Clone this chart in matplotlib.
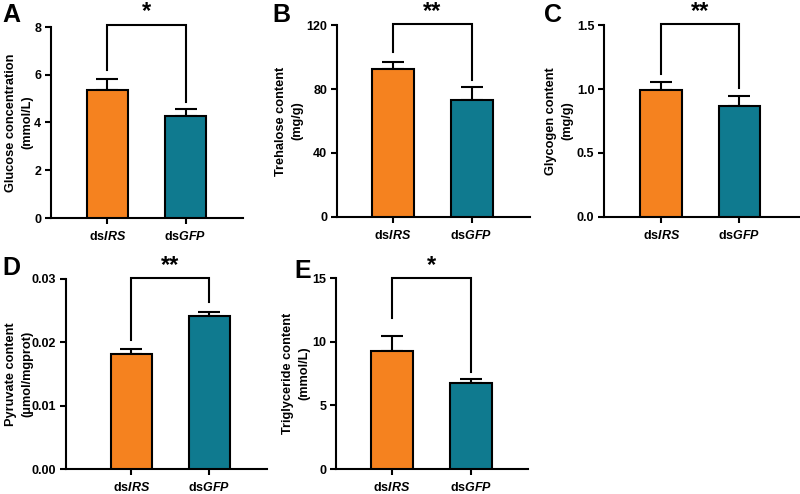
import matplotlib
matplotlib.use("Agg")
import matplotlib.pyplot as plt

plt.rcParams['font.family'] = ['Liberation Sans', 'DejaVu Sans']
plt.rcParams['font.weight'] = 'bold'
plt.rcParams['mathtext.fontset'] = 'custom'
plt.rcParams['mathtext.it'] = 'Liberation Sans:italic:bold'
plt.rcParams['mathtext.rm'] = 'Liberation Sans:bold'

# ---- data ----
groups = [r'ds$\mathit{IRS}$', r'ds$\mathit{GFP}$']
colors = ['#F5821F', '#0F7A8F']

panels = ['A', 'B', 'C', 'D', 'E']
ylabels = ['Glucose concentration\n(mmol/L)',
           'Trehalose content\n(mg/g)',
           'Glycogen content\n(mg/g)',
           'Pyruvate content\n(μmol/mgprot)',
           'Triglyceride content\n(mmol/L)']
means_A = [5.38, 4.29]
errs_A = [0.43, 0.29]
means_B = [92.8, 73.4]
errs_B = [4.2, 8.1]
means_C = [0.995, 0.868]
errs_C = [0.063, 0.080]
means_D = [0.0182, 0.0241]
errs_D = [0.0007, 0.0006]
means_E = [9.31, 6.74]
errs_E = [1.18, 0.36]
means = [means_A, means_B, means_C, means_D, means_E]
errs = [errs_A, errs_B, errs_C, errs_D, errs_E]
yticks = [[0, 2, 4, 6, 8], [0, 40, 80, 120], [0.0, 0.5, 1.0, 1.5],
          [0.00, 0.01, 0.02, 0.03], [0, 5, 10, 15]]
yticklabels = [['0', '2', '4', '6', '8'], ['0', '40', '80', '120'],
               ['0.0', '0.5', '1.0', '1.5'], ['0.00', '0.01', '0.02', '0.03'],
               ['0', '5', '10', '15']]
sig = ['*', '**', '**', '**', '*']
bracket_y = [8.1, 120.8, 1.507, 0.0301, 15.0]
leg_ends = [[6.2, 4.87], [103, 86], [1.118, 1.006], [0.0204, 0.0263], [11.9, 7.63]]

# ---- layout (pixels) ----
W, H = 800, 494
rects_px = [(51, 243, 27, 218), (337, 530, 25.3, 216.7), (604, 799, 25.3, 216.7),
            (66, 267, 278.7, 469), (336, 528, 278.3, 469)]
xlims = [(-0.724, 1.737), (-0.706, 1.74), (-0.73, 1.76), (-0.84, 1.74), (-0.71, 1.72)]
label_off = [-31.5, -48, -44.5, -46.5, -39.5]
letter_pos = [(2, 3), (272, 3), (544, 3), (2, 256), (294, 259)]

fig = plt.figure(figsize=(W / 100, H / 100), dpi=100)
lw = 1.5
for i in range(5):
    x0, x1, yt, yb = rects_px[i]
    ax = fig.add_axes([x0 / W, 1 - yb / H, (x1 - x0) / W, (yb - yt) / H])
    xs = [0, 1]
    ax.bar(xs, means[i], width=0.53, color=colors, edgecolor='black', linewidth=lw, zorder=3)
    for j in range(2):
        ax.errorbar(xs[j], means[i][j], yerr=[[0], [errs[i][j]]], fmt='none',
                    ecolor='black', elinewidth=lw, capsize=7.8, capthick=lw, zorder=2)
    by = bracket_y[i]
    ax.plot([0, 0, 1, 1], [leg_ends[i][0], by, by, leg_ends[i][1]], color='black',
            lw=lw, clip_on=False, zorder=4, solid_joinstyle='miter')
    ax.annotate(sig[i], xy=(0.5, by), xytext=(0, 1), textcoords='offset points',
                ha='center', va='bottom', fontsize=17, fontweight='bold', annotation_clip=False)
    ax.set_xlim(*xlims[i])
    ax.set_ylim(yticks[i][0], yticks[i][-1])
    ax.set_yticks(yticks[i])
    ax.set_yticklabels(yticklabels[i], fontsize=9, fontweight='bold')
    ax.set_xticks(xs)
    ax.set_xticklabels(groups, fontsize=9, fontweight='bold')
    ax.spines['top'].set_visible(False)
    ax.spines['right'].set_visible(False)
    for s in ['left', 'bottom']:
        ax.spines[s].set_linewidth(lw)
    ax.tick_params(axis='both', width=lw, length=4.5, direction='out')
    ax.tick_params(axis='y', pad=2.5)
    ax.tick_params(axis='x', pad=4)
    ax.set_ylabel(ylabels[i], fontsize=9.2, fontweight='bold', linespacing=1.5,
                  va='center', ha='center')
    ax.yaxis.set_label_coords(label_off[i] / (x1 - x0), 0.5)
    lx, ly = letter_pos[i]
    fig.text(lx / W, 1 - ly / H, panels[i], fontsize=18, fontweight='bold', ha='left', va='top')

fig.savefig('out.png', dpi=100)
